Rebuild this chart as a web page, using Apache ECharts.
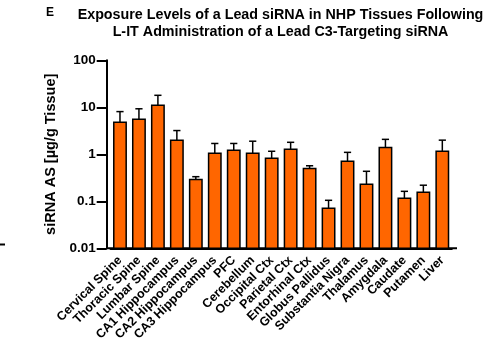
<!DOCTYPE html>
<html>
<head>
<meta charset="utf-8">
<script src="https://cdn.jsdelivr.net/npm/echarts@6/dist/echarts.min.js"></script>
<style>
  html, body { margin: 0; padding: 0; background: #fff; }
  #main { width: 493px; height: 352px; }
</style>
</head>
<body>
<div id="main"></div>
<script>
// 组织名称
var tissues = ['Cervical Spine', 'Thoracic Spine', 'Lumbar Spine', 'CA1 Hippocampus', 'CA2 Hippocampus',
  'CA3 Hippocampus', 'PFC', 'Cerebellum', 'Occipital Ctx', 'Parietal Ctx', 'Entorhinal Ctx',
  'Globus Pallidus', 'Substantia Nigra', 'Thalamus', 'Amygdala', 'Caudate', 'Putamen', 'Liver'];
// 平均值
var means = [4.8, 5.55, 11.0, 2.0, 0.29, 1.05, 1.22, 1.05, 0.82, 1.28, 0.5, 0.071, 0.71, 0.23, 1.4, 0.116, 0.155, 1.16];
// 误差上限
var upper = [8.1, 9.3, 18.0, 3.2, 0.334, 1.7, 1.7, 1.9, 1.16, 1.8, 0.57, 0.105, 1.1, 0.435, 2.08, 0.163, 0.22, 2.0];
var yTicks = [0.01, 0.1, 1, 10, 100];

var font = 'Liberation Sans, Arial, sans-serif';
var myChart = echarts.init(document.getElementById('main'));

var barData = means.map(function (m, i) { return [i, m, upper[i]]; });

var option = {
  animation: false,
  graphic: [
    { type: 'text', left: 46, top: 7, style: { text: 'E', font: 'bold 12px ' + font, fill: '#000' } },
    { type: 'text', x: 280.5, y: 7, style: { text: 'Exposure Levels of a Lead siRNA in NHP Tissues Following\nL-IT Administration of a Lead C3-Targeting siRNA',
      font: 'bold 14.3px ' + font, fill: '#000', align: 'center', lineHeight: 17 } },
    { type: 'rect', shape: { x: 0, y: 243.5, width: 5, height: 2 }, style: { fill: '#000' } },
    { type: 'rect', shape: { x: 106, y: 247.3, width: 351, height: 2 }, style: { fill: '#000' } }
  ],
  grid: { left: 110.5, right: 41.2, top: 60.3, bottom: 103.7, containLabel: false },
  xAxis: {
    type: 'category',
    data: tissues,
    axisLine: { lineStyle: { color: '#000', width: 2 } },
    axisTick: { alignWithLabel: true, length: 8, lineStyle: { color: '#000', width: 2 } },
    axisLabel: { rotate: 45, interval: 0, margin: 10, color: '#000', fontWeight: 'bold', fontSize: 12.5, fontFamily: font }
  },
  yAxis: {
    type: 'log',
    logBase: 10,
    min: yTicks[0],
    max: yTicks[yTicks.length - 1],
    offset: 3.8,
    name: 'siRNA AS [µg/g Tissue]',
    nameLocation: 'middle',
    nameGap: 37,
    nameTextStyle: { color: '#000', fontWeight: 'bold', fontSize: 14.5, fontFamily: font },
    splitLine: { show: false },
    minorTick: { show: false },
    axisLine: { show: true, lineStyle: { color: '#000', width: 2 } },
    axisTick: { show: true, length: 10, lineStyle: { color: '#000', width: 2 } },
    axisLabel: { margin: 11, color: '#000', fontWeight: 'bold', fontSize: 13.5, fontFamily: font }
  },
  series: [
    {
      type: 'custom',
      data: barData,
      encode: { x: 0, y: [1, 2] },
      renderItem: function (params, api) {
        var base = api.coord([api.value(0), yTicks[0]]);
        var mid = api.coord([api.value(0), api.value(1)]);
        var top = api.coord([api.value(0), api.value(2)]);
        var w = 12.4;
        var half = 3.6;
        return {
          type: 'group',
          children: [
            { type: 'line', shape: { x1: top[0], y1: top[1], x2: mid[0], y2: mid[1] }, style: { stroke: '#000', lineWidth: 1.5 } },
            { type: 'line', shape: { x1: top[0] - half, y1: top[1], x2: top[0] + half, y2: top[1] }, style: { stroke: '#000', lineWidth: 1.5 } },
            { type: 'rect', shape: { x: mid[0] - w / 2, y: mid[1], width: w, height: base[1] - mid[1] },
              style: { fill: '#FF6600', stroke: '#000', lineWidth: 1.5 } }
          ]
        };
      }
    }
  ]
};
myChart.setOption(option);
</script>
</body>
</html>
